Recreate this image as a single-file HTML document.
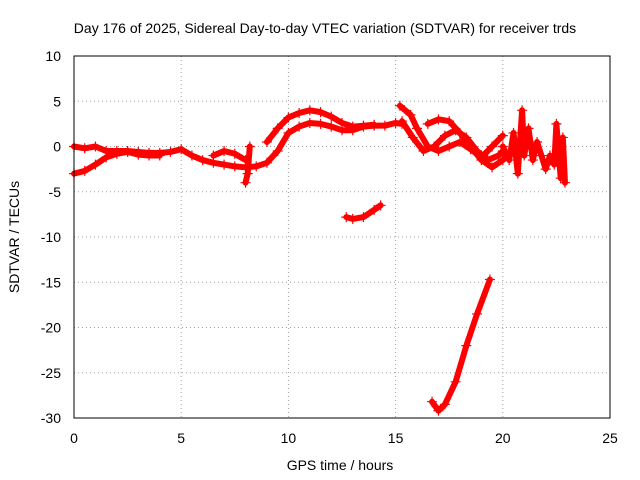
<!DOCTYPE html>
<html><head><meta charset="utf-8"><style>
body{margin:0;background:#fff;}
svg{display:block;font-family:"Liberation Sans",sans-serif;}
</style></head><body>
<svg id="chart" width="640" height="480">
<rect width="640" height="480" fill="#fff"/>
<text x="325" y="33" font-size="14" text-anchor="middle">Day 176 of 2025, Sidereal Day-to-day VTEC variation (SDTVAR) for receiver trds</text>
<text x="340" y="470" font-size="14" text-anchor="middle">GPS time / hours</text>
<text x="0" y="0" font-size="14" text-anchor="middle" transform="translate(19,237) rotate(-90)">SDTVAR / TECUs</text>
<g id="grid"></g><g id="ticks"></g><g id="series"></g>
<rect x="74" y="56" width="536" height="362" fill="none" stroke="#000"/>
</svg>
<script>
const xTicks=[0,5,10,15,20,25];
const yTicks=[10,5,0,-5,-10,-15,-20,-25,-30];
const sA_t=[0,0.5,1,1.5,2,2.5,3,3.5,4,4.5,5,5.5,6,6.5,7,7.5,8,8.5,9,9.5,10,10.5,11,11.5,12,12.5,13,13.5,14,14.5,15,15.3];
const sA_v=[0,-0.2,0,-0.5,-0.5,-0.5,-0.6,-0.7,-0.7,-0.6,-0.3,-1,-1.5,-1.8,-2,-2.2,-2.3,-2.2,-1.8,-0.5,1.5,2.2,2.6,2.5,2.2,1.8,1.8,2.2,2.3,2.3,2.6,2.5];
const sB_t=[0,0.5,1,1.5,2,2.5,3,3.5,4];
const sB_v=[-3,-2.7,-2,-1.2,-0.8,-0.6,-0.9,-1,-1];
const sC_t=[9,9.5,10,10.5,11,11.5,12,12.5,13,13.5,14];
const sC_v=[0.5,2,3.2,3.7,4,3.8,3.3,2.6,2.2,2.3,2.4];
const sD_t=[6.5,7,7.5,8];
const sD_v=[-1,-0.5,-0.8,-1.5];
const sE_t=[8,8.1,8.2];
const sE_v=[-4,-3,0];
const sF_t=[12.7,13,13.5,14,14.3];
const sF_v=[-7.8,-8,-7.8,-7,-6.5];
const sG_t=[16.7,17,17.3,17.8,18.3,18.8,19.4];
const sG_v=[-28.2,-29.2,-28.5,-26,-22,-18.5,-14.7];
const sH_t=[15.2,15.7,16,16.5,17,17.5,18,18.5,19,19.5,20];
const sH_v=[4.5,3.5,2,0,-0.5,0,0.5,-0.3,-1.2,0,1.2];
const sI_t=[15.3,15.8,16.3,16.8,17.3,17.8,18.3,18.8,19.3,19.8,20];
const sI_v=[2.8,1,-0.5,0,1.2,1.8,1,-0.5,-1.5,-1,-0.5];
const sJ_t=[16.5,17,17.5,18,18.5,19,19.5,20,20.5];
const sJ_v=[2.5,3,2.8,1.5,0,-1.5,-2.3,-1.5,-0.5];
const sK_t=[20,20.3,20.5,20.7,20.9,21,21.2,21.4,21.6,21.8,22,22.2,22.4,22.5,22.7,22.8,22.9];
const sK_v=[0,-1.5,1.5,-3,4,-1,2,-1.5,0.5,-1,-2.5,-1,-2,2.5,-3.5,1,-4];
const seriesT=[sA_t,sB_t,sC_t,sD_t,sE_t,sF_t,sG_t,sH_t,sI_t,sJ_t,sK_t];
const seriesV=[sA_v,sB_v,sC_v,sD_v,sE_v,sF_v,sG_v,sH_v,sI_v,sJ_v,sK_v];
const X=t=>74+t*536/25;
const Y=v=>56+(10-v)*362/40;
const NS="http://www.w3.org/2000/svg";
function mk(tag,attrs,parent){const e=document.createElementNS(NS,tag);for(const k in attrs)e.setAttribute(k,attrs[k]);parent.appendChild(e);return e;}
const grid=document.getElementById('grid'),ticks=document.getElementById('ticks'),ser=document.getElementById('series');
xTicks.forEach(t=>{
 if(t>0&&t<25){const g=mk('line',{x1:X(t),x2:X(t),y1:56,y2:418,stroke:'#a0a0a0','stroke-dasharray':'1,3'},grid);
 
 }
 const l=mk('text',{x:X(t),y:443,'font-size':14,'text-anchor':'middle'},ticks);l.textContent=t;
 
 
});
yTicks.forEach(v=>{
 if(v<10&&v>-30){const g=mk('line',{x1:74,x2:610,y1:Y(v),y2:Y(v),stroke:'#a0a0a0','stroke-dasharray':'1,3'},grid);
 
 }
 const l=mk('text',{x:61,y:Y(v)+5,'font-size':14,'text-anchor':'end'},ticks);l.textContent=v;
 
 
});
seriesT.forEach((ts,i)=>{
 const vs=seriesV[i];
 const pts=ts.map((t,j)=>X(t)+','+Y(vs[j])).join(' ');
 const p=mk('polyline',{points:pts,fill:'none',stroke:'#f00','stroke-width':6,'stroke-linejoin':'round','stroke-linecap':'round'},ser);
 
 
 ts.forEach((t,j)=>{
  const x=X(t),y=Y(vs[j]);
  const m=mk('path',{d:`M${x-5},${y}H${x+5}M${x},${y-5}V${y+5}`,stroke:'#f00','stroke-width':1.2},ser);
  
  
 });
});
</script>
</body></html>
